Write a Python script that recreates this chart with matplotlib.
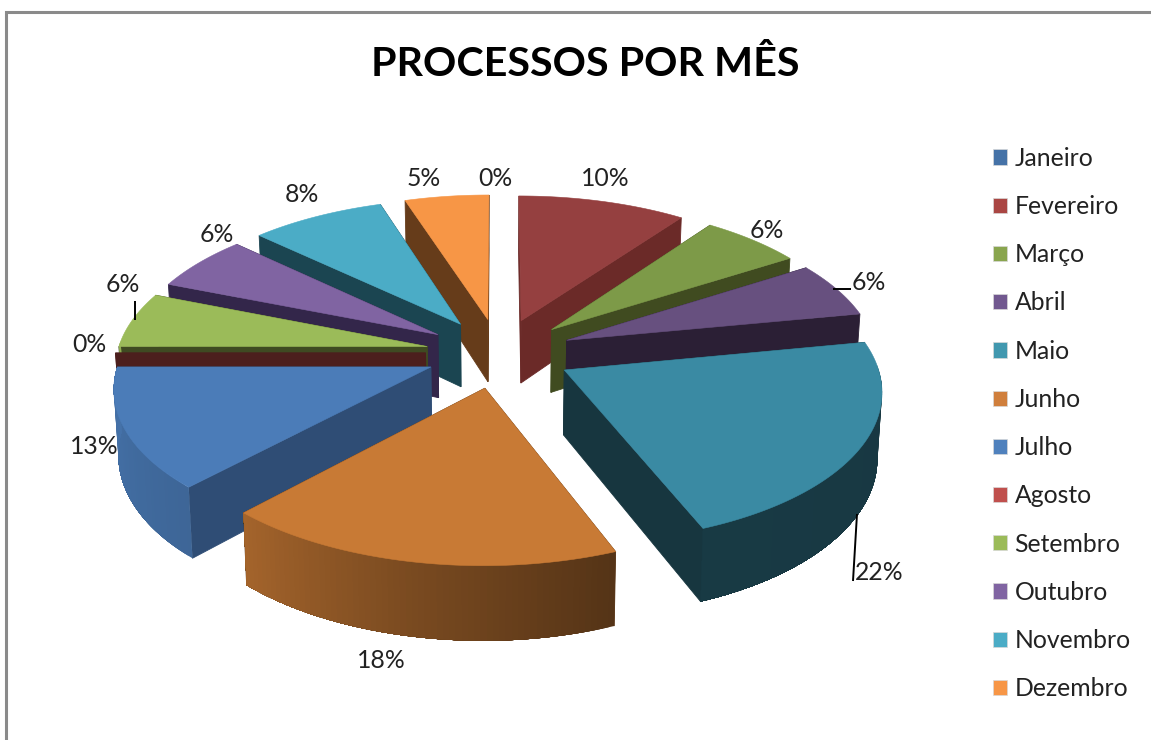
import numpy as np
import matplotlib
matplotlib.use("Agg")
import matplotlib.pyplot as plt
from matplotlib.patches import Polygon, Patch

plt.rcParams['font.family'] = ['Lato', 'DejaVu Sans']

months = ["Janeiro", "Fevereiro", "Março", "Abril", "Maio", "Junho", "Julho",
          "Agosto", "Setembro", "Outubro", "Novembro", "Dezembro"]
values = [0, 10, 6, 6, 22, 18, 13, 0, 6, 6, 8, 5]
title = "PROCESSOS POR MÊS"

top_colors = ["#4272a8", "#954040", "#7d9a48", "#67507f", "#3a8aa3", "#c87a35",
              "#4b7cb8", "#b84a48", "#9bbb59", "#8064a2", "#4bacc6", "#f79646"]
legend_colors = ["#4572a7", "#aa4643", "#89a54e", "#71588f", "#4198af", "#d07f3c",
                 "#4f81bd", "#c0504d", "#9bbb59", "#8064a2", "#4bacc6", "#f79646"]
cut_colors = ["#2a1a1a", "#6b2a28", "#404b20", "#2b1f35", "#17363f", "#5a3413",
              "#2f4d75", "#4c1f1d", "#3f4a22", "#33264a", "#1b4551", "#663c1a"]
label_xy = [(495, 179), (605, 178), (767, 230), (869, 282), (879, 572), (381, 660),
            (94, 447), (89, 344), (123, 285), (217, 234), (302, 195), (424, 179)]
draw_order = [11, 0, 1, 10, 2, 9, 3, 8, 7, 6, 4, 5]
leaders = [((833, 289), (851, 289)), ((857, 514), (853, 581)), ((135, 301), (135, 320))]

# view of the pie: centre, radii, perspective, explosion, thickness (pixels)
CX, CY, RX, RY, K, EXPL, DEPTH, SHRINK = 499, 353, 310, 147, 0.12, 0.237, 64, 0.012
shade_angle = [80, 158, 190, 223, 270]
shade_value = [0.40, 0.42, 0.60, 0.82, 0.92]


def project(u, v, z=0.0):
    s = 1.0 / (1.0 - K * v)
    x = CX + RX * u * s * (1 - SHRINK * z)
    y = CY + RY * v * s + DEPTH * z * s
    return x, y


def rgb(c):
    return np.array(matplotlib.colors.to_rgb(c))


fig = plt.figure(figsize=(11.51, 7.40), dpi=100)
ax = fig.add_axes([0, 0, 1, 1])
ax.set_xlim(0, 1151)
ax.set_ylim(740, 0)
ax.axis("off")

total = sum(values)
edges = np.concatenate([[0], np.cumsum(values)]) / total * 360.0

for i in draw_order:
    a0, a1 = edges[i], edges[i + 1]
    mid = np.radians((a0 + a1) / 2)
    ou, ov = EXPL * np.sin(mid), -EXPL * np.cos(mid)
    th = np.radians(np.linspace(a0, a1, max(int(a1 - a0) + 2, 2)))
    ru, rv = ou + np.sin(th), ov - np.cos(th)

    # radial cut faces (a face seen exactly edge-on shows nothing)
    for ang in (th[0], th[-1]):
        eu, ev = ou + np.sin(ang), ov - np.cos(ang)
        pts = [project(ou, ov), project(eu, ev), project(eu, ev, 1), project(ou, ov, 1)]
        xs = [p[0] for p in pts]
        if max(xs) - min(xs) < 1:
            continue
        ax.add_patch(Polygon(pts, closed=True, fc=cut_colors[i], ec=cut_colors[i], lw=0.6))

    # outer rim, front-facing part only: each band covers all later ones, so no seams
    front = [j for j in range(len(th) - 1) if 88 < np.degrees((th[j] + th[j + 1]) / 2) < 272]
    if front:
        last = front[-1] + 1
        for j in front:
            deg = np.degrees((th[j] + th[j + 1]) / 2)
            col = rgb(top_colors[i]) * np.interp(deg, shade_angle, shade_value)
            idx = range(j, last + 1)
            pts = [project(ru[m], rv[m]) for m in idx] + [project(ru[m], rv[m], 1) for m in reversed(idx)]
            ax.add_patch(Polygon(pts, closed=True, fc=col, ec="none", lw=0))

    # top face
    if values[i] > 0:
        pts = [project(ou, ov)] + [project(a, b) for a, b in zip(ru, rv)]
        ax.add_patch(Polygon(pts, closed=True, fc=top_colors[i], ec=top_colors[i], lw=0.4))

for p, q in leaders:
    ax.plot([p[0], q[0]], [p[1], q[1]], color="black", lw=1.4, solid_capstyle="butt")

for v, (x, y) in zip(values, label_xy):
    ax.text(x, y, f"{v}%", ha="center", va="center", fontsize=17.8, color="#222222")

ax.text(585, 65, title, ha="center", va="center", fontsize=29.7, fontweight="bold", color="black")

handles = [Patch(fc=c, ec="#d8d8d8", lw=0.5) for c in legend_colors]
ax.legend(handles, months, loc="center left", bbox_to_anchor=(993 / 1151, 1 - 423.5 / 740),
          frameon=False, fontsize=17.8, labelspacing=1.02, handlelength=0.57, handleheight=0.57,
          handletextpad=0.3, labelcolor="#222222", borderpad=0, borderaxespad=0)

# chart frame, cut off by the picture on the right and at the bottom
ax.plot([6, 6, 1151], [740, 12, 12], color="#8a8a8a", lw=2.2, solid_joinstyle="miter")

fig.savefig("out.png", dpi=100, facecolor="white")
